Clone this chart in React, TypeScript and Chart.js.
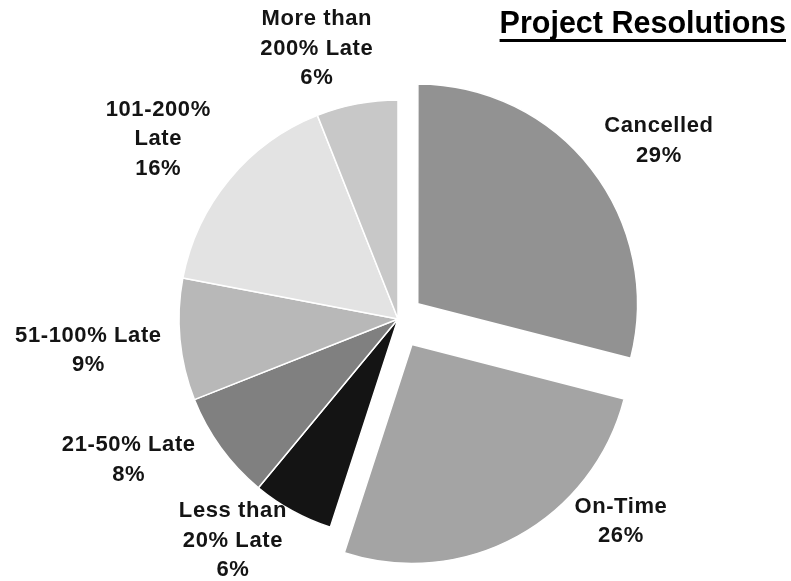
import React, { useEffect, useRef } from "react";
import { Chart, registerables } from "chart.js";

Chart.register(...registerables);

// ---- data ----
const categories = [
  "Cancelled",
  "On-Time",
  "Less than 20% Late",
  "21-50% Late",
  "51-100% Late",
  "101-200% Late",
  "More than 200% Late",
];
const shares = [29, 26, 6, 8, 9, 16, 6];
const labelLines = [
  ["Cancelled"],
  ["On-Time"],
  ["Less than", "20% Late"],
  ["21-50% Late"],
  ["51-100% Late"],
  ["101-200%", "Late"],
  ["More than", "200% Late"],
];
const chartTitle = "Project Resolutions";

// ---- styling ----
const sliceColors = ["#929292", "#a4a4a4", "#141414", "#808080", "#b8b8b8", "#e3e3e3", "#c8c8c8"];
const explodeOffsets = [100, 116, 0, 0, 0, 0, 0];
// label placement relative to each slice: distance from pie centre (px), angular shift from mid-angle (deg)
const labelDistance = [317, 300, 275, 303, 311, 301, 284];
const labelShiftDeg = [3.2, -19.2, 8.1, 8.7, 0, -2.4, -5.8];

const FONT = "'Liberation Sans', Arial, Helvetica, sans-serif";

const sliceLabels = {
  id: "sliceLabels",
  afterDatasetsDraw(chart: any) {
    const ctx = chart.ctx as CanvasRenderingContext2D;
    const meta = chart.getDatasetMeta(0);
    const total = shares.reduce((a, b) => a + b, 0);
    ctx.save();
    ctx.font = `bold 22px ${FONT}`;
    (ctx as any).letterSpacing = "0.6px";
    ctx.fillStyle = "#141414";
    ctx.textAlign = "center";
    ctx.textBaseline = "alphabetic";
    meta.data.forEach((arc: any, i: number) => {
      const { x, y, startAngle, endAngle } = arc.getProps(["x", "y", "startAngle", "endAngle"], true);
      const a = (startAngle + endAngle) / 2 + (labelShiftDeg[i] * Math.PI) / 180;
      const cx = x + labelDistance[i] * Math.cos(a);
      const cy = y + labelDistance[i] * Math.sin(a);
      const lines = [...labelLines[i], Math.round((shares[i] / total) * 100) + "%"];
      const lh = 29.5;
      const cap = 16;
      lines.forEach((t, j) => {
        const by = cy + (j - (lines.length - 1) / 2) * lh + cap / 2;
        ctx.fillText(t, cx, by);
      });
    });
    ctx.restore();
  },
};

const titlePlugin = {
  id: "underlinedTitle",
  afterDraw(chart: any) {
    const ctx = chart.ctx as CanvasRenderingContext2D;
    ctx.save();
    ctx.font = `bold 30.5px ${FONT}`;
    ctx.fillStyle = "#000000";
    ctx.textAlign = "right";
    ctx.textBaseline = "alphabetic";
    const right = chart.width - 5;
    ctx.fillText(chartTitle, right, 33);
    const w = ctx.measureText(chartTitle).width;
    ctx.fillRect(right - w, 39, w, 3);
    ctx.restore();
  },
};

export default function App() {
  const ref = useRef<HTMLCanvasElement>(null);
  useEffect(() => {
    document.body.style.margin = "0";
    const chart = new Chart(ref.current as HTMLCanvasElement, {
      type: "pie",
      data: {
        labels: categories,
        datasets: [
          {
            data: shares,
            backgroundColor: sliceColors,
            borderColor: "#ffffff",
            borderWidth: 1.5,
            offset: explodeOffsets,
          } as any,
        ],
      },
      options: {
        animation: false,
        responsive: true,
        maintainAspectRatio: false,
        events: [],
        radius: 219,
        layout: { padding: { left: 5, right: 0, top: 57, bottom: 0 } },
        plugins: {
          legend: { display: false },
          title: { display: false },
          tooltip: { enabled: false },
        },
      } as any,
      plugins: [sliceLabels, titlePlugin],
    });
    return () => chart.destroy();
  }, []);
  return (
    <div style={{ position: "relative", width: 791, height: 581 }}>
      <canvas ref={ref} />
    </div>
  );
}
